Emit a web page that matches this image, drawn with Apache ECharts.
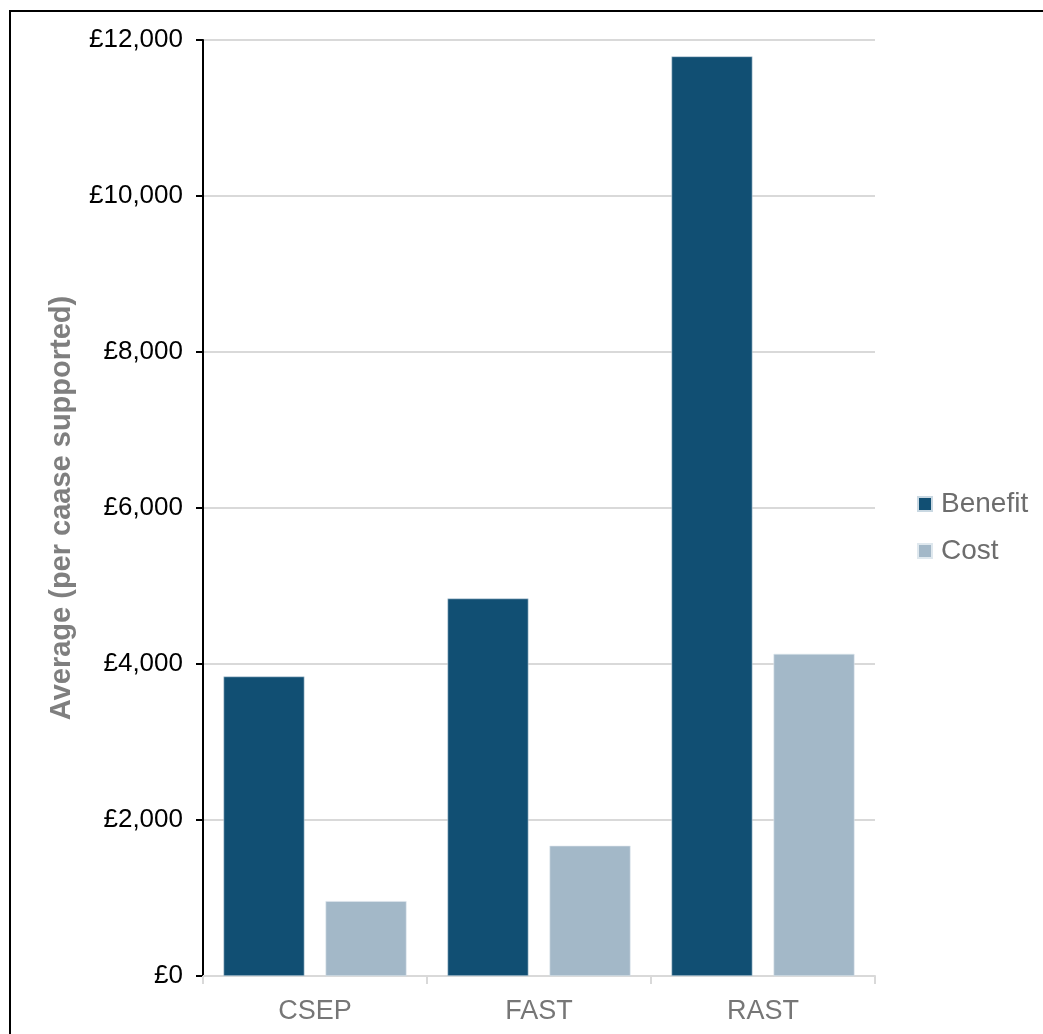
<!DOCTYPE html>
<html>
<head>
<meta charset="utf-8">
<script src="https://cdn.jsdelivr.net/npm/echarts@6/dist/echarts.min.js"></script>
<style>
  html, body { margin: 0; padding: 0; background: #fff; }
  #chart { width: 1043px; height: 1034px; }
</style>
</head>
<body>
<div id="chart"></div>
<script>
// Schemes compared
const categories = ['CSEP', 'FAST', 'RAST'];
// Average value per case supported (£)
const benefit = [3840, 4840, 11790];
const cost = [960, 1670, 4130];
// Value axis ticks
const yMin = 0;
const yMax = 12000;
const yStep = 2000;

const font = 'Liberation Sans, Arial, sans-serif';
const chart = echarts.init(document.getElementById('chart'));

chart.setOption({
  animation: false,
  backgroundColor: '#ffffff',
  graphic: [{
    type: 'rect',
    shape: { x: 10, y: 11, width: 1200, height: 1200 },
    style: { fill: 'none', stroke: '#000', lineWidth: 2 },
    silent: true
  }],
  grid: { left: 203, top: 40, width: 672, height: 936, containLabel: false },
  legend: {
    orient: 'vertical',
    left: 912,
    top: 485,
    itemWidth: 14,
    itemHeight: 14,
    itemGap: 19,
    icon: 'rect',
    textStyle: { fontFamily: font, fontSize: 28, color: '#6d6d6d', padding: [0, 0, 0, 4] },
    data: ['Benefit', 'Cost']
  },
  xAxis: {
    type: 'category',
    data: categories,
    axisLine: { lineStyle: { color: '#d9d9d9', width: 2 } },
    axisTick: { show: true, length: 8, lineStyle: { color: '#d9d9d9', width: 2 } },
    axisLabel: { fontFamily: font, fontSize: 27, color: '#767676', margin: 22 }
  },
  yAxis: {
    type: 'value',
    min: yMin,
    max: yMax,
    interval: yStep,
    name: 'Average (per caase supported)',
    nameLocation: 'middle',
    nameGap: 127,
    nameTextStyle: { fontFamily: font, fontSize: 29, fontWeight: 'bold', color: '#7f7f7f' },
    axisLine: { show: true, lineStyle: { color: '#000', width: 2 } },
    axisTick: { show: true, length: 7, lineStyle: { color: '#000', width: 2 } },
    axisLabel: {
      fontFamily: font, fontSize: 26, color: '#000', margin: 20,
      formatter: v => '£' + v.toLocaleString('en-GB')
    },
    splitLine: { show: true, lineStyle: { color: '#d9d9d9', width: 2 } }
  },
  series: [
    {
      name: 'Benefit',
      type: 'bar',
      data: benefit,
      barWidth: 81,
      barGap: '26%',
      itemStyle: { color: '#114f73', borderColor: '#c9d8e2', borderWidth: 0.6 }
    },
    {
      name: 'Cost',
      type: 'bar',
      data: cost,
      barWidth: 81,
      barGap: '26%',
      itemStyle: { color: '#a3b8c8', borderColor: '#dfe8ee', borderWidth: 0.6 }
    }
  ]
});
</script>
</body>
</html>
